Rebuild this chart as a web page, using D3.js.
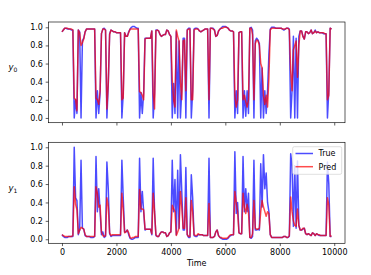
<!DOCTYPE html>
<html><head><meta charset="utf-8">
<script src="https://cdn.jsdelivr.net/npm/d3@7"></script>
<style>body{margin:0;background:#fff}svg{display:block}text{font-family:"DejaVu Sans",sans-serif}</style>
</head><body><svg id="c" width="371" height="275"></svg>
<script>
const time = [0,50,100,150,200,250,300,350,400,450,500,550,600,650,700,750,800,850,900,950,
1000,1050,1100,1150,1200,1250,1300,1350,1400,1450,1500,1550,1600,1650,1700,1750,1800,1850,1900,1950,
2000,2050,2100,2150,2200,2250,2300,2350,2400,2450,2500,2550,2600,2650,2700,2750,2800,2850,2900,2950,
3000,3050,3100,3150,3200,3250,3300,3350,3400,3450,3500,3550,3600,3650,3700,3750,3800,3850,3900,3950,
4000,4050,4100,4150,4200,4250,4300,4350,4400,4450,4500,4550,4600,4650,4700,4750,4800,4850,4900,4950,
5000,5050,5100,5150,5200,5250,5300,5350,5400,5450,5500,5550,5600,5650,5700,5750,5800,5850,5900,5950,
6000,6050,6100,6150,6200,6250,6300,6350,6400,6450,6500,6550,6600,6650,6700,6750,6800,6850,6900,6950,
7000,7050,7100,7150,7200,7250,7300,7350,7400,7450,7500,7550,7600,7650,7700,7750,7800,7850,7900,7950,
8000,8050,8100,8150,8200,8250,8300,8350,8400,8450,8500,8550,8600,8650,8700,8750,8800,8850,8900,8950,
9000,9050,9100,9150,9200,9250,9300,9350,9400,9450,9500,9550,9600,9650,9700,9750,9800,9850,9900];

const y0True = [0.95,0.97,0.99,0.99,0.98,0.98,0.98,0.97,0.97,0.00,
0.20,0.05,0.97,0.95,0.00,0.85,0.88,0.95,0.98,0.98,
0.98,0.98,0.98,0.98,0.98,0.00,0.30,0.05,0.28,0.93,
0.98,0.99,0.97,0.00,0.37,0.93,0.97,0.96,0.95,0.95,
0.94,0.94,0.94,0.94,0.00,0.27,0.94,0.90,0.90,0.95,
0.98,1.00,1.01,1.01,1.00,0.99,0.99,0.00,0.28,0.05,
0.28,0.88,0.88,0.88,0.88,0.88,0.96,0.00,0.27,0.97,
0.97,0.96,0.92,0.90,0.91,0.92,0.92,0.97,0.96,0.92,
0.90,0.00,0.38,0.05,0.95,0.00,0.85,0.00,0.30,0.88,
0.88,0.00,0.97,0.99,0.99,0.00,0.30,0.98,0.99,0.99,
0.98,0.96,0.95,0.96,0.97,0.98,0.98,0.98,0.00,0.99,
0.99,0.99,0.97,0.90,0.91,0.96,0.98,0.99,1.01,1.01,
1.01,1.00,0.99,0.97,0.96,0.96,0.95,0.00,0.30,0.05,
0.94,0.95,0.95,0.00,0.30,0.02,0.30,0.05,0.99,1.00,
0.97,0.00,0.85,0.88,0.86,0.82,0.00,0.55,0.00,0.30,
0.05,0.30,0.70,0.98,1.00,1.00,1.00,0.99,0.99,0.99,
0.99,0.99,0.98,0.97,0.98,0.99,0.99,0.98,0.00,0.30,
0.90,0.00,0.88,0.00,0.90,0.96,0.96,0.90,0.87,0.95,
0.95,0.93,0.94,0.97,0.93,0.94,0.97,0.94,0.95,0.94,
0.94,0.94,0.93,0.93,0.93,0.00,0.30,0.99,0.98];

const y0Pred = [0.95,0.97,0.99,0.99,0.99,0.98,0.98,0.98,0.97,0.22,
0.20,0.08,0.97,0.94,0.80,0.83,0.87,0.95,0.98,0.98,
0.98,0.98,0.98,0.98,0.98,0.22,0.20,0.15,0.30,0.93,
0.98,0.98,0.97,0.10,0.38,0.92,0.97,0.96,0.95,0.95,
0.94,0.94,0.94,0.94,0.20,0.22,0.94,0.90,0.90,0.94,
0.98,0.98,0.98,0.98,0.98,0.98,0.98,0.29,0.28,0.25,
0.20,0.87,0.88,0.88,0.88,0.88,0.96,0.27,0.10,0.96,
0.97,0.96,0.92,0.90,0.91,0.92,0.92,0.97,0.96,0.92,
0.90,0.42,0.20,0.12,0.97,0.90,0.85,0.40,0.20,0.85,
0.86,0.30,0.97,0.98,0.98,0.20,0.20,0.97,0.98,0.98,
0.98,0.96,0.95,0.96,0.97,0.98,0.98,0.98,0.20,0.99,
0.99,0.98,0.97,0.90,0.91,0.96,0.98,0.99,0.99,1.00,
1.00,1.00,0.99,0.97,0.96,0.96,0.95,0.25,0.12,0.20,
0.94,0.95,0.95,0.20,0.25,0.18,0.12,0.20,0.99,0.99,
0.92,0.20,0.82,0.86,0.85,0.80,0.60,0.55,0.25,0.15,
0.25,0.12,0.44,0.97,0.99,0.99,0.99,0.99,0.99,0.99,
0.99,0.99,0.98,0.98,0.98,0.99,0.99,0.97,0.52,0.30,
0.75,0.80,0.85,0.45,0.80,0.96,0.96,0.90,0.87,0.95,
0.95,0.93,0.94,0.97,0.93,0.94,0.96,0.94,0.95,0.94,
0.94,0.94,0.94,0.93,0.93,0.20,0.25,0.99,0.98];

const y1True = [0.05,0.03,0.02,0.02,0.02,0.03,0.03,0.03,0.03,1.00,
0.45,0.42,0.05,0.10,0.86,0.12,0.11,0.04,0.03,0.03,
0.03,0.02,0.02,0.02,0.03,0.90,0.30,0.55,0.30,0.05,
0.08,0.02,0.03,0.84,0.55,0.06,0.03,0.04,0.04,0.04,
0.04,0.04,0.04,0.04,0.86,0.45,0.08,0.08,0.10,0.05,
0.01,0.00,0.00,0.01,0.02,0.02,0.02,0.88,0.30,0.52,
0.30,0.10,0.11,0.11,0.11,0.11,0.05,0.88,0.30,0.04,
0.03,0.03,0.06,0.08,0.08,0.07,0.07,0.03,0.04,0.07,
0.08,0.86,0.30,0.65,0.05,0.75,0.12,0.92,0.52,0.10,
0.10,0.78,0.05,0.02,0.02,0.70,0.45,0.04,0.03,0.03,
0.05,0.05,0.05,0.05,0.04,0.04,0.04,0.04,0.88,0.02,
0.02,0.02,0.03,0.08,0.10,0.04,0.02,0.01,0.00,0.00,
0.00,0.00,0.01,0.03,0.04,0.05,0.05,0.95,0.28,0.40,
0.07,0.06,0.06,0.90,0.30,0.55,0.30,0.50,0.02,0.01,
0.03,0.86,0.10,0.10,0.11,0.10,0.82,0.35,0.92,0.55,
0.72,0.40,0.30,0.05,0.02,0.02,0.02,0.02,0.02,0.02,
0.02,0.02,0.02,0.03,0.03,0.02,0.02,0.03,0.93,0.80,
0.14,0.80,0.12,0.85,0.15,0.10,0.10,0.11,0.12,0.06,
0.05,0.06,0.05,0.04,0.07,0.06,0.04,0.06,0.05,0.04,
0.04,0.04,0.04,0.04,0.04,0.84,0.60,0.03,0.03];

const y1Pred = [0.05,0.04,0.03,0.03,0.03,0.03,0.03,0.03,0.04,0.57,
0.38,0.32,0.06,0.10,0.13,0.12,0.11,0.05,0.03,0.03,
0.03,0.03,0.03,0.03,0.03,0.57,0.50,0.35,0.37,0.08,
0.04,0.03,0.04,0.45,0.36,0.07,0.04,0.05,0.05,0.05,
0.05,0.05,0.05,0.05,0.50,0.32,0.07,0.08,0.10,0.07,
0.02,0.01,0.02,0.02,0.03,0.03,0.03,0.54,0.33,0.33,
0.32,0.11,0.11,0.11,0.11,0.11,0.06,0.50,0.30,0.05,
0.03,0.03,0.06,0.08,0.08,0.07,0.07,0.03,0.04,0.07,
0.08,0.37,0.33,0.30,0.04,0.08,0.12,0.52,0.35,0.12,
0.12,0.45,0.05,0.03,0.03,0.42,0.30,0.05,0.04,0.04,
0.06,0.05,0.05,0.05,0.04,0.04,0.04,0.04,0.39,0.02,
0.02,0.02,0.03,0.08,0.10,0.04,0.02,0.02,0.01,0.01,
0.01,0.01,0.02,0.04,0.05,0.05,0.05,0.52,0.40,0.30,
0.07,0.06,0.06,0.50,0.35,0.28,0.38,0.30,0.02,0.02,
0.06,0.42,0.12,0.11,0.11,0.12,0.30,0.42,0.35,0.30,
0.25,0.30,0.28,0.05,0.02,0.02,0.02,0.02,0.02,0.02,
0.02,0.02,0.02,0.03,0.03,0.02,0.02,0.04,0.46,0.30,
0.20,0.15,0.14,0.33,0.15,0.10,0.10,0.12,0.12,0.06,
0.05,0.06,0.05,0.04,0.07,0.06,0.04,0.06,0.05,0.05,
0.04,0.04,0.04,0.04,0.04,0.45,0.37,0.03,0.04];

const xTicks = [0,2000,4000,6000,8000,10000];
const yTicks = [0.0,0.2,0.4,0.6,0.8,1.0];
const seriesNames = ["True","Pred"];
const panelLabels = ["0","1"];

const svg = d3.select("#c");
const L = 48.5, R = 345;
const panels = [
  {top:22, bottom:122.7, dom:[-0.0525,1.0585], t:y0True, p:y0Pred, showX:false, label:panelLabels[0]},
  {top:142.3, bottom:243.3, dom:[-0.044,1.054], t:y1True, p:y1Pred, showX:true, label:panelLabels[1]}
];
const tMin = d3.min(time), tMax = d3.max(time), pad = (tMax - tMin) * 0.05;
const x = d3.scaleLinear().domain([tMin - pad, tMax + pad]).range([L, R]);
const colors = {True:"#0000ff", Pred:"#ff0000"};
const op = 0.7, lw = 1.5;

panels.forEach((pn, k) => {
  const y = d3.scaleLinear().domain(pn.dom).range([pn.bottom, pn.top]);
  const g = svg.append("g");
  const clipId = "clip" + k;
  svg.append("clipPath").attr("id", clipId).append("rect")
    .attr("x", L).attr("y", pn.top).attr("width", R - L).attr("height", pn.bottom - pn.top);
  const line = d3.line().x((d, i) => x(time[i])).y(d => y(d));
  g.append("path").datum(pn.t).attr("d", line).attr("fill","none")
    .attr("stroke", colors.True).attr("stroke-opacity", op).attr("stroke-width", lw)
    .attr("stroke-linejoin","round").attr("clip-path", `url(#${clipId})`);
  g.append("path").datum(pn.p).attr("d", line).attr("fill","none")
    .attr("stroke", colors.Pred).attr("stroke-opacity", op).attr("stroke-width", lw)
    .attr("stroke-linejoin","round").attr("clip-path", `url(#${clipId})`);

  const yAxis = d3.axisLeft(y).tickValues(yTicks).tickFormat(d3.format(".1f")).tickSizeOuter(0).tickSize(2.8).tickPadding(2.8);
  const ga = svg.append("g").attr("transform", `translate(${L},0)`).call(yAxis);
  ga.select(".domain").remove();
  ga.selectAll("text").attr("font-size", 8).attr("fill", "#000").attr("font-family", "DejaVu Sans");
  ga.selectAll("line").attr("stroke", "#000").attr("stroke-width", 0.64);

  const xAxis = d3.axisBottom(x).tickValues(xTicks).tickSizeOuter(0).tickSize(2.8).tickPadding(2.8)
    .tickFormat(pn.showX ? d3.format("d") : () => "");
  const gx = svg.append("g").attr("transform", `translate(0,${pn.bottom})`).call(xAxis);
  gx.select(".domain").remove();
  gx.selectAll("text").attr("font-size", 8).attr("fill", "#000").attr("font-family", "DejaVu Sans");
  gx.selectAll("line").attr("stroke", "#000").attr("stroke-width", 0.64);

  svg.append("rect").attr("x", L).attr("y", pn.top).attr("width", R - L).attr("height", pn.bottom - pn.top)
    .attr("fill","none").attr("stroke","#000").attr("stroke-width",0.64);

  const yl = svg.append("text").attr("x", 8.5).attr("y", (pn.top + pn.bottom) / 2 - 2).attr("font-size", 8.5);
  yl.append("tspan").attr("font-style","italic").text("y");
  yl.append("tspan").attr("font-size", 6).attr("dy", 2).text(pn.label);
});

svg.append("text").attr("x", (L + R) / 2).attr("y", 266).attr("text-anchor","middle").attr("font-size", 8).text("Time");

const lg = svg.append("g");
lg.append("rect").attr("x", 292.7).attr("y", 146.7).attr("width", 49).attr("height", 27.6).attr("rx", 1.6)
  .attr("fill", "#fff").attr("fill-opacity", 0.8).attr("stroke", "#cccccc").attr("stroke-width", 0.64);
seriesNames.forEach((nm, i) => {
  const yy = 153.5 + i * 13.2;
  lg.append("line").attr("x1", 295.5).attr("x2", 313).attr("y1", yy).attr("y2", yy)
    .attr("stroke", colors[nm]).attr("stroke-opacity", op).attr("stroke-width", lw);
  lg.append("text").attr("x", 318.5).attr("y", yy + 2.9).attr("font-size", 8).text(nm);
});
</script></body></html>
